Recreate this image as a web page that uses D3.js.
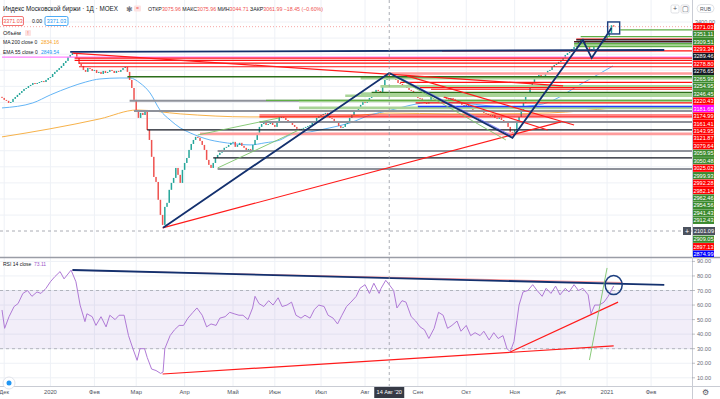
<!DOCTYPE html>
<html>
<head>
<meta charset="utf-8">
<script src="https://cdn.jsdelivr.net/npm/d3@7"></script>
<style>
  html, body { margin: 0; padding: 0; background: #fff; }
  svg { display: block; font-family: "Liberation Sans", Arial, sans-serif; }
</style>
</head>
<body>
<svg id="chart" width="720" height="399"></svg>
<script>
// ---- data ----
// daily closes, bar 0 = late Nov 2019, bar 278 = early Jan 2021
const closes = [
  2928, 2916, 2910, 2897, 2903, 2922, 2934, 2947, 2959, 2971,
  2984, 2990, 3002, 3009, 3021, 3015, 3021, 3027, 3033, 3027,
  3040, 3052, 3058, 3077, 3090, 3102, 3114, 3127, 3145, 3158,
  3183, 3195, 3207, 3201, 3176, 3139, 3127, 3102, 3090, 3114,
  3108, 3096, 3102, 3083, 3090, 3077, 3096, 3083, 3090, 3102,
  3096, 3083, 3096, 3090, 3102, 3114, 3121, 3090, 3040, 2990,
  2916, 2853, 2804, 2835, 2822, 2841, 2729, 2667, 2562, 2437,
  2406, 2295, 2201, 2139, 2251, 2276, 2357, 2400, 2431, 2493,
  2450, 2400, 2481, 2524, 2555, 2605, 2642, 2667, 2686, 2680,
  2661, 2636, 2605, 2543, 2512, 2493, 2524, 2555, 2574, 2587,
  2605, 2618, 2624, 2636, 2649, 2655, 2624, 2636, 2649, 2630,
  2618, 2605, 2611, 2605, 2636, 2667, 2711, 2748, 2766, 2773,
  2760, 2766, 2773, 2760, 2748, 2779, 2810, 2810, 2804, 2791,
  2779, 2773, 2760, 2748, 2736, 2729, 2736, 2742, 2748, 2754,
  2760, 2773, 2785, 2804, 2816, 2822, 2829, 2835, 2816, 2804,
  2798, 2785, 2773, 2754, 2742, 2748, 2766, 2785, 2804, 2822,
  2841, 2853, 2872, 2885, 2903, 2897, 2910, 2928, 2947, 2965,
  2978, 2971, 2965, 3002, 3040, 3076, 3062, 3052, 3046, 3040,
  3021, 3015, 3002, 3009, 2990, 2978, 2972, 2953, 2950, 2928,
  2925, 2903, 2897, 2893, 2916, 2940, 2959, 2965, 2959, 2953,
  2940, 2928, 2922, 2916, 2928, 2922, 2910, 2897, 2902, 2885,
  2878, 2884, 2866, 2860, 2853, 2847, 2841, 2853, 2841, 2835,
  2829, 2822, 2816, 2822, 2804, 2798, 2806, 2791, 2779, 2773,
  2748, 2717, 2698, 2729, 2779, 2810, 2841, 2897, 2940, 2965,
  3009, 3021, 3046, 3058, 3071, 3058, 3065, 3083, 3096, 3102,
  3121, 3133, 3139, 3152, 3164, 3176, 3195, 3207, 3214, 3232,
  3245, 3263, 3276, 3288, 3276, 3270, 3251, 3220, 3232, 3245,
  3257, 3263, 3270, 3282, 3294, 3307, 3332, 3380, 3371.03
];
const firstOpen = 2935;
const lastPrice = 3371.03;

// moving averages: [bar, price]
const ema55 = [
  [0, 2866], [14, 2897], [22, 2947], [31, 2996], [38, 3027], [44.5, 3046],
  [53.6, 3052], [58.2, 3052], [62.7, 3021], [67.3, 2959], [71.8, 2853],
  [76.4, 2791], [81, 2742], [85.5, 2711], [90, 2686], [94.5, 2667],
  [99, 2655], [106, 2642], [112.7, 2636], [119.5, 2649], [126.4, 2667],
  [131, 2698], [140, 2717], [149, 2742], [158.2, 2773], [167.3, 2822],
  [176, 2850], [188.6, 2891], [194.5, 2903], [208, 2897], [222, 2878],
  [231, 2866], [240, 2879], [246, 2891], [264, 3021], [277.7, 3127]
];
const ma200 = [
  [0, 2686], [21.8, 2736], [44.5, 2798], [61.4, 2853], [81, 2829],
  [112.7, 2810], [135.5, 2810], [158.2, 2816], [176, 2834], [203.6, 2829],
  [226.4, 2829], [249, 2835], [277.7, 2866]
];

// RSI 14: [bar, value]
const rsi = [
  [0,56.6],[1.2,44],[3.2,52],[5.5,59],[7.3,61],[9.5,68],[11.6,70],[13.6,66],[15.9,69],[17.7,68],
  [20,71.5],[22,76],[24,79.5],[26.4,83],[28.2,78],[31.4,84],[33.6,76],[35.5,60],[37.7,48.6],[38.6,54],
  [41,52],[42.7,46],[45,52],[47.3,45],[49,53],[51.4,50],[53.2,53],[55.5,53],[57.5,39],[59.5,30],
  [61.4,22],[62.7,30],[64.8,30],[66,24],[68,16],[70,15],[72.1,13],[73.2,14],[74,30],[76.4,39],
  [78.4,43],[80.5,46],[82.5,46],[84.5,51],[86.8,55],[88.6,58],[91,53],[93,45],[95,47],[97.3,46],
  [99,51],[101.4,52],[103.5,55],[105.5,54],[107.7,53],[109.5,53],[111.8,50],[113.9,58],[115,66],[116.8,61],
  [119,59],[121.2,63],[123.2,60],[125.5,65],[127.3,59],[129.5,60],[131.6,62],[133.6,53],[135.9,51],[137.7,53],
  [140,51],[142,57],[144,60],[146.4,59],[148.2,53],[150.5,51],[152.5,47],[154.5,53],[156.6,59],[158.6,62],
  [161,66],[162.7,71.5],[165,74],[167,68],[169,75],[171.4,68],[172.3,71.5],[174.4,77],[176,74],[178,70],
  [179.5,58],[181.8,63],[183.6,62],[186,52],[188,49],[190,45],[192,43],[194,37],[196.4,44],[198.4,55],
  [200.5,53],[202.5,44],[204.5,46],[206.8,49],[208.6,42],[211,46],[213,39],[215,41],[217.3,39],[219,42],
  [221.4,36],[223.5,41],[225.5,37],[227.7,39],[229.5,30],[231,28],[232.7,35],[235,60],[236.8,69],[239,70],
  [241.2,74],[243.2,70],[245.5,66],[247.3,71.5],[249.5,68],[251.6,73],[253.6,67],[256,71.5],[257.7,69],[260,74],
  [262,70],[264,71.5],[266.4,67],[267.7,54],[269.4,60],[271.4,60],[273.6,62],[275.5,66],[278,73.1]
];

// horizontal levels drawn on the chart
const levelPrices = [
  3351.11, 3309.51, 3293.34, 3289.46, 3278.80, 3276.65, 3265.98, 3254.95, 3246.45, 3220.43,
  3181.68, 3174.99, 3161.41, 3143.95, 3121.87, 3079.64, 3059.95, 3050.48, 3025.02, 2999.93,
  2992.28, 2982.14, 2962.46, 2954.56, 2941.43, 2912.43, 2909.05, 2897.13, 2874.99,
  2866, 2910, 2847, 2822, 2810, 2779, 2729, 2705, 2599, 2555, 2487
];
const levelStarts = [
  281, 263, 261, 261, 260, 260, 260, 260, 261, 200,
  0, 33, 33, 35, 35, 176, 57, 163, 181, 172,
  190, 195, 168, 163, 156, 120, 135, 188, 189,
  135, 58, 60, 117, 117, 117, 66, 90, 98, 96, 98
];
const levelKinds = [
  "sup", "sup", "res", "key", "res", "key", "sup", "supPale", "sup", "res",
  "pink", "res", "res", "res", "res", "resPale", "dsup", "supPale", "res", "supPale",
  "res", "res", "dsup", "supPale", "supPale", "sup", "supPale", "res", "blue",
  "supPale", "old", "old", "res", "res", "old", "key", "resPale", "old", "key", "old"
];

// sloped drawings on price pane: [[bar, price], [bar, price]]
const trendLines = [
  [[31, 3214], [301, 3226]],
  [[32, 3207], [255, 3003]],
  [[73, 2121], [254, 2779]],
  [[184, 3065], [260, 2760]],
  [[201, 2934], [248, 2729]],
  [[181, 3052], [231, 2698]],
  [[179, 3058], [229, 2667]],
  [[89, 2698], [126, 2804]],
  [[98, 2493], [135, 2729]]
];
const trendKinds = ["navy", "red", "red", "red", "red", "blueThin", "greenThin", "greenThin", "greenThin"];
const zigzag = [[73.2, 2121], [176, 3083], [232, 2680], [264, 3288], [268, 3176], [277, 3363]];
const boxCenter = [278, 3363];

// drawings on RSI pane
const rsiLines = [
  [[32, 84], [282, 75.5]],
  [[32, 84.1], [301, 73.8]],
  [[73, 12.6], [278, 31.9]],
  [[231, 27.7], [280, 62]],
  [[267, 22.2], [275, 85.5]]
];
const rsiLineKinds = ["redThin", "navy", "red", "red", "greenThin"];
const rsiCircle = [278, 73.8];

// axes
const monthTicks = [1, 22, 42, 61, 83, 105, 124, 145, 165, 189, 211, 233, 254, 275, 295];
const monthLabels = ["Дек", "2020", "Фев", "Мар", "Апр", "Май", "Июн", "Июл", "Авг", "Сен", "Окт", "Ноя", "Дек", "2021", "Фев"];
const rsiTicks = [90, 80, 70, 60, 50, 40, 30, 20, 10];
const priceGrid = [3400, 3300, 3200, 3100, 3000, 2900, 2800, 2700, 2600, 2500, 2400, 2300, 2200];
const crossBar = 176, crossBarLabel = "14 Авг '20", crossPrice = 2101.09;

// ---- styles ----
const UP = "#26a69a", DOWN = "#ef5350";
const levelStyle = {
  res:     { stroke: "#ff1111", w: 1.2, tag: "#ff0000" },
  resPale: { stroke: "#ff9c9c", w: 2.6, tag: "#ff0000" },
  sup:     { stroke: "#5fae45", w: 1.3, tag: "#3b8a2e" },
  supPale: { stroke: "#a9d497", w: 2.6, tag: "#3b8a2e" },
  dsup:    { stroke: "#2c6e1a", w: 1.4, tag: "#3b8a2e" },
  key:     { stroke: "#131722", w: 1.2, tag: "#131722" },
  old:     { stroke: "#8f929b", w: 2,   tag: null },
  blue:    { stroke: "#1f3cff", w: 1.4, tag: "#0000ff" },
  pink:    { stroke: "#ff80ff", w: 1.4, tag: "#ff00ff" },
  last:    { stroke: null,      w: 0,   tag: "#ff0000" }
};
const lineStyle = {
  navy:      { stroke: "#13306e", w: 1.8 },
  red:       { stroke: "#ff1a1a", w: 1.2 },
  redThin:   { stroke: "#ff8a8a", w: 0.9 },
  blueThin:  { stroke: "#6a6cff", w: 0.9 },
  greenThin: { stroke: "#7cc46a", w: 0.9 }
};

// ---- layout ----
const PR = 692;               // right edge of panes
const mainBottom = 257, rsiTop = 258, rsiBottom = 386;
const TAG_GAP = 7.45;

const svg = d3.select("#chart");
const x = d3.scaleLinear().domain([0, 313.6]).range([2, 692]);
const y = d3.scaleLinear().domain([crossPrice, 3400]).range([231, 22]);
const yr = d3.scaleLinear().domain([10, 90]).range([377.8, 261.4]);

const defs = svg.append("defs");
defs.append("clipPath").attr("id", "clipMain")
  .append("rect").attr("x", 0).attr("y", 0).attr("width", PR).attr("height", mainBottom);
defs.append("clipPath").attr("id", "clipRsi")
  .append("rect").attr("x", 0).attr("y", rsiTop).attr("width", PR).attr("height", rsiBottom - rsiTop);
defs.append("clipPath").attr("id", "clipTags")
  .append("rect").attr("x", PR).attr("y", 0).attr("width", 720 - PR).attr("height", mainBottom);

// ---- main pane ----
const main = svg.append("g").attr("clip-path", "url(#clipMain)");

// grid
main.append("g").selectAll("line").data(monthTicks).join("line")
  .attr("x1", d => x(d)).attr("x2", d => x(d)).attr("y1", 0).attr("y2", mainBottom)
  .attr("stroke", "#eef1f6").attr("stroke-width", 1);
main.append("g").selectAll("line").data(priceGrid).join("line")
  .attr("x1", 0).attr("x2", PR).attr("y1", d => y(d)).attr("y2", d => y(d))
  .attr("stroke", "#eef1f6").attr("stroke-width", 1);

// moving averages
const maLine = d3.line().x(d => x(d[0])).y(d => y(d[1])).curve(d3.curveMonotoneX);
main.append("path").attr("d", maLine(ma200)).attr("fill", "none")
  .attr("stroke", "#f7b24a").attr("stroke-width", 1);
main.append("path").attr("d", maLine(ema55)).attr("fill", "none")
  .attr("stroke", "#64b5f6").attr("stroke-width", 1);

// candles
const bars = closes.map((c, i) => ({ i, o: i ? closes[i - 1] : firstOpen, c }));
main.append("g").selectAll("rect").data(bars).join("rect")
  .attr("x", d => x(d.i) - 0.75)
  .attr("width", 1.5)
  .attr("y", d => y(Math.max(d.o, d.c)))
  .attr("height", d => Math.max(1, Math.abs(y(d.o) - y(d.c))))
  .attr("fill", d => d.c >= d.o ? UP : DOWN);

// last price dotted line
main.append("line").attr("x1", 0).attr("x2", PR)
  .attr("y1", y(lastPrice)).attr("y2", y(lastPrice))
  .attr("stroke", "#ef5350").attr("stroke-opacity", 0.5).attr("stroke-dasharray", "1,2");

// horizontal levels
const levels = levelPrices.map((p, i) => ({ price: p, start: levelStarts[i], kind: levelKinds[i] }));
const order = ["pink", "old", "supPale", "resPale", "sup", "dsup", "res", "key", "blue"];
const sortedLevels = levels.slice().sort((a, b) => order.indexOf(a.kind) - order.indexOf(b.kind));
main.append("g").selectAll("line").data(sortedLevels).join("line")
  .attr("x1", d => x(d.start)).attr("x2", PR)
  .attr("y1", d => y(d.price)).attr("y2", d => y(d.price))
  .attr("stroke", d => levelStyle[d.kind].stroke)
  .attr("stroke-width", d => levelStyle[d.kind].w);

// sloped lines
const trends = trendLines.map((pts, i) => ({ pts, kind: trendKinds[i] }));
main.append("g").selectAll("line").data(trends).join("line")
  .attr("x1", d => x(d.pts[0][0])).attr("y1", d => y(d.pts[0][1]))
  .attr("x2", d => x(d.pts[1][0])).attr("y2", d => y(d.pts[1][1]))
  .attr("stroke", d => lineStyle[d.kind].stroke)
  .attr("stroke-width", d => lineStyle[d.kind].w);

main.append("path")
  .attr("d", d3.line().x(d => x(d[0])).y(d => y(d[1]))(zigzag))
  .attr("fill", "none").attr("stroke", "#13306e").attr("stroke-width", 1.8)
  .attr("stroke-linejoin", "miter");

main.append("rect")
  .attr("x", x(boxCenter[0]) - 6).attr("y", y(boxCenter[1]) - 6)
  .attr("width", 12).attr("height", 12)
  .attr("fill", "none").attr("stroke", "#1d3f7f").attr("stroke-width", 1.4);

// crosshair (horizontal)
main.append("line").attr("x1", 0).attr("x2", PR)
  .attr("y1", y(crossPrice)).attr("y2", y(crossPrice))
  .attr("stroke", "#9598a1").attr("stroke-width", 0.8).attr("stroke-dasharray", "3,3");

// ---- RSI pane ----
const rp = svg.append("g").attr("clip-path", "url(#clipRsi)");
rp.append("g").selectAll("line").data(monthTicks).join("line")
  .attr("x1", d => x(d)).attr("x2", d => x(d)).attr("y1", rsiTop).attr("y2", rsiBottom)
  .attr("stroke", "#eef1f6");
rp.append("g").selectAll("line").data(rsiTicks).join("line")
  .attr("x1", 0).attr("x2", PR).attr("y1", d => yr(d)).attr("y2", d => yr(d))
  .attr("stroke", "#eef1f6");
rp.append("rect").attr("x", 0).attr("width", PR)
  .attr("y", yr(70)).attr("height", yr(30) - yr(70))
  .attr("fill", "#7e57c2").attr("fill-opacity", 0.1);
rp.append("g").selectAll("line").data([70, 30]).join("line")
  .attr("x1", 0).attr("x2", PR).attr("y1", d => yr(d)).attr("y2", d => yr(d))
  .attr("stroke", "#a3a6af").attr("stroke-width", 0.8).attr("stroke-dasharray", "3,3");

rp.append("path")
  .attr("d", d3.line().x(d => x(d[0])).y(d => yr(d[1]))(rsi))
  .attr("fill", "none").attr("stroke", "#b07ad6").attr("stroke-width", 1);

const rLines = rsiLines.map((pts, i) => ({ pts, kind: rsiLineKinds[i] }));
rp.append("g").selectAll("line").data(rLines).join("line")
  .attr("x1", d => x(d.pts[0][0])).attr("y1", d => yr(d.pts[0][1]))
  .attr("x2", d => x(d.pts[1][0])).attr("y2", d => yr(d.pts[1][1]))
  .attr("stroke", d => lineStyle[d.kind].stroke)
  .attr("stroke-width", d => lineStyle[d.kind].w);

rp.append("ellipse")
  .attr("cx", x(rsiCircle[0])).attr("cy", yr(rsiCircle[1]))
  .attr("rx", 8.5).attr("ry", 9.5)
  .attr("fill", "none").attr("stroke", "#1d3f7f").attr("stroke-width", 1.5);

// vertical crosshair through both panes
svg.append("line").attr("x1", x(crossBar)).attr("x2", x(crossBar))
  .attr("y1", 0).attr("y2", rsiBottom)
  .attr("stroke", "#9598a1").attr("stroke-width", 0.8).attr("stroke-dasharray", "3,3");

// ---- separators ----
svg.append("line").attr("x1", 0).attr("x2", 720).attr("y1", 257.5).attr("y2", 257.5)
  .attr("stroke", "#9a9da6").attr("stroke-width", 1.5);
svg.append("line").attr("x1", 0).attr("x2", 720).attr("y1", rsiBottom + 0.5).attr("y2", rsiBottom + 0.5)
  .attr("stroke", "#c9ccd4");
svg.append("line").attr("x1", PR + 0.5).attr("x2", PR + 0.5).attr("y1", 0).attr("y2", 399)
  .attr("stroke", "#c9ccd4");

// ---- price axis tags (stacked like TradingView, making room for the crosshair label) ----
const yCross = y(crossPrice);
const tagData = [{ price: lastPrice, kind: "last" }]
  .concat(levels.filter(d => levelStyle[d.kind].tag))
  .sort((a, b) => b.price - a.price);
let prevY = -Infinity, skipped = false;
tagData.forEach(d => {
  d.ty = Math.max(y(d.price), prevY + TAG_GAP);
  if (!skipped && Math.abs(d.ty - yCross) < TAG_GAP) { d.ty = yCross + 8.2; skipped = true; }
  prevY = d.ty;
});
const visibleTags = tagData.filter(d => d.ty < mainBottom - 2);

const tagsG = svg.append("g").attr("clip-path", "url(#clipTags)");
tagsG.append("text").attr("x", 705).attr("y", y(3400) + 2)
  .attr("text-anchor", "middle").attr("font-size", 5.6).attr("fill", "#6a6d78").text("3400.00");
const tag = tagsG.selectAll("g.tag").data(visibleTags).join("g").attr("class", "tag");
tag.append("rect").attr("x", PR + 1).attr("y", d => d.ty - 3.6)
  .attr("width", 21).attr("height", 7.2).attr("fill", d => levelStyle[d.kind].tag);
tag.append("text").attr("x", PR + 11.5).attr("y", d => d.ty + 2)
  .attr("text-anchor", "middle").attr("font-size", 5.6).attr("fill", "#fff")
  .text(d => d3.format(".2f")(d.price));

// crosshair price label
svg.append("rect").attr("x", PR + 1).attr("y", yCross - 4).attr("width", 22).attr("height", 8)
  .attr("fill", "#4c525e");
svg.append("text").attr("x", PR + 12).attr("y", yCross + 2)
  .attr("text-anchor", "middle").attr("font-size", 5.6).attr("fill", "#fff")
  .text(d3.format(".2f")(crossPrice));
svg.append("rect").attr("x", 683).attr("y", yCross - 4).attr("width", 8).attr("height", 8)
  .attr("fill", "#4c525e");
svg.append("text").attr("x", 687).attr("y", yCross + 2.6)
  .attr("text-anchor", "middle").attr("font-size", 7).attr("fill", "#fff").text("+");

// RSI axis
const rAxis = svg.append("g");
rAxis.selectAll("line").data(rsiTicks).join("line")
  .attr("x1", PR).attr("x2", PR + 3).attr("y1", d => yr(d)).attr("y2", d => yr(d))
  .attr("stroke", "#9598a1").attr("stroke-width", 0.6);
rAxis.selectAll("text").data(rsiTicks).join("text")
  .attr("x", PR + 5).attr("y", d => yr(d) + 2)
  .attr("font-size", 5.6).attr("fill", "#6a6d78")
  .text(d => d3.format(".2f")(d));

// time axis
const tAxis = svg.append("g");
tAxis.selectAll("text").data(monthTicks).join("text")
  .attr("x", d => x(d)).attr("y", 394)
  .attr("text-anchor", "middle").attr("font-size", 5.8).attr("fill", "#50535e")
  .text((d, i) => monthLabels[i]);
tAxis.append("rect").attr("x", x(crossBar) - 15).attr("y", rsiBottom + 1)
  .attr("width", 30).attr("height", 11).attr("fill", "#363a45");
tAxis.append("text").attr("x", x(crossBar)).attr("y", 394)
  .attr("text-anchor", "middle").attr("font-size", 5.6).attr("fill", "#fff").text(crossBarLabel);
tAxis.append("text").attr("x", 705).attr("y", 395).attr("text-anchor", "middle")
  .attr("font-size", 8).attr("fill", "#50535e").text("⚙");

// bottom-left badge
svg.append("circle").attr("cx", 9).attr("cy", 383).attr("r", 6)
  .attr("fill", "#fff").attr("stroke", "#e0e3eb");
svg.append("circle").attr("cx", 9).attr("cy", 383).attr("r", 2.5).attr("fill", "#2196f3");

// ---- legends ----
const fit = (sel, len) => sel.attr("textLength", len).attr("lengthAdjust", "spacingAndGlyphs");
const leg = svg.append("g").attr("font-size", 6.4);
fit(leg.append("text").attr("x", 3).attr("y", 11).attr("fill", "#131722")
  .text("Индекс Московской биржи · 1Д · MOEX"), 115);
leg.append("text").attr("x", 126).attr("y", 11.5).attr("fill", "#787b86").attr("font-size", 8).text("✱");
leg.append("rect").attr("x", 134).attr("y", 5.5).attr("width", 7).attr("height", 6).attr("rx", 1)
  .attr("fill", "#fde2e2");
leg.append("text").attr("x", 137.5).attr("y", 10.4).attr("text-anchor", "middle")
  .attr("fill", "#ef5350").attr("font-size", 5).text("=");

const ohlc = [["ОТКР", "3075.96"], ["МАКС", "3075.96"], ["МИН", "3044.71"], ["ЗАКР", "3061.99"]];
const ohlcText = fit(leg.append("text").attr("x", 148).attr("y", 11).attr("font-size", 5.6), 175);
ohlc.forEach(([k, v], i) => {
  ohlcText.append("tspan").attr("fill", "#131722").text((i ? " " : "") + k);
  ohlcText.append("tspan").attr("fill", "#ef5350").text(v);
});
ohlcText.append("tspan").attr("fill", "#ef5350").text(" −18.45 (−0.60%)");

leg.append("rect").attr("x", 2.5).attr("y", 16.5).attr("width", 21).attr("height", 9).attr("rx", 1.5)
  .attr("fill", "#fff").attr("stroke", "#ef5350").attr("stroke-width", 0.8);
leg.append("text").attr("x", 13).attr("y", 23).attr("text-anchor", "middle").attr("font-size", 5.4)
  .attr("fill", "#ef5350").text("3371.03");
leg.append("text").attr("x", 32).attr("y", 23).attr("font-size", 5.2).attr("fill", "#131722").text("0.00");
leg.append("rect").attr("x", 45).attr("y", 16.5).attr("width", 23).attr("height", 9).attr("rx", 1.5)
  .attr("fill", "#fff").attr("stroke", "#2196f3").attr("stroke-width", 0.8);
leg.append("text").attr("x", 56.5).attr("y", 23).attr("text-anchor", "middle").attr("font-size", 5.4)
  .attr("fill", "#2196f3").text("3371.03");

leg.append("text").attr("x", 3).attr("y", 35).attr("font-size", 5.6).attr("fill", "#131722").text("Объём");
leg.append("rect").attr("x", 25).attr("y", 30).attr("width", 6).attr("height", 6).attr("rx", 1)
  .attr("fill", "#fde2e2");
leg.append("text").attr("x", 28).attr("y", 34.8).attr("text-anchor", "middle").attr("font-size", 5)
  .attr("fill", "#ef5350").text("!");

const maLeg = [["MA 200 close 0", "2834.16", "#f7a21b", 44], ["EMA 55 close 0", "2849.54", "#2196f3", 54]];
maLeg.forEach(([k, v, c, py]) => {
  leg.append("text").attr("x", 3).attr("y", py).attr("font-size", 5).attr("fill", "#131722").text(k);
  leg.append("text").attr("x", 41).attr("y", py).attr("font-size", 5).attr("fill", c).text(v);
});

const rLeg = svg.append("g").attr("font-size", 5);
rLeg.append("text").attr("x", 3).attr("y", 266).attr("fill", "#131722").text("RSI 14 close");
rLeg.append("text").attr("x", 34).attr("y", 266).attr("fill", "#9c57c9").text("73.11");

// top-right controls
const ctl = svg.append("g");
[675, 685].forEach((cx, i) => {
  ctl.append("rect").attr("x", cx - 4).attr("y", 5).attr("width", 8).attr("height", 8).attr("rx", 1.5)
    .attr("fill", "#fff").attr("stroke", "#c9ccd4").attr("stroke-width", 0.6);
  ctl.append("text").attr("x", cx).attr("y", 11.3).attr("text-anchor", "middle")
    .attr("font-size", 7).attr("fill", "#50535e").text(i ? "▢" : "+");
});
ctl.append("rect").attr("x", 697).attr("y", 4.5).attr("width", 17).attr("height", 8).attr("rx", 4)
  .attr("fill", "#fff").attr("stroke", "#c9ccd4").attr("stroke-width", 0.6);
ctl.append("text").attr("x", 705.5).attr("y", 10.5).attr("text-anchor", "middle")
  .attr("font-size", 5.2).attr("fill", "#50535e").text("RUB");
</script>
</body>
</html>
